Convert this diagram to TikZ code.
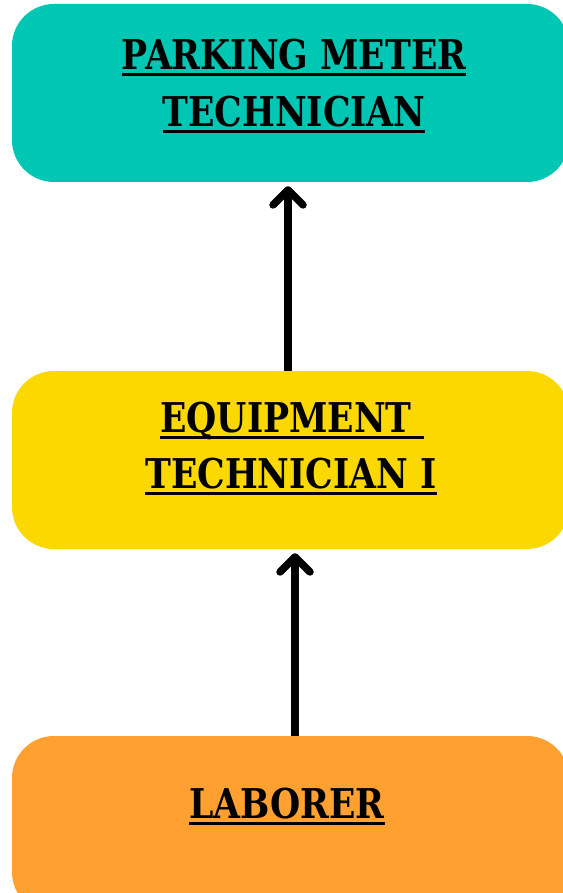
\documentclass[tikz,border=0pt]{standalone}
\usepackage{fontspec}
\setmainfont{DejaVu Serif Condensed}[FakeStretch=0.94]
\usetikzlibrary{arrows.meta}
\definecolor{tealbox}{HTML}{00C6B4}
\definecolor{yellowbox}{HTML}{FBD800}
\definecolor{orangebox}{HTML}{FFA030}
\newcommand\myul[1]{\setbox0\hbox{#1}\rlap{\rule[-6.5pt]{\wd0}{3pt}}\box0}
\tikzset{
  rolebox/.style={rounded corners=42pt, minimum width=557pt, minimum height=178pt, inner sep=0pt, draw=none},
  rolelbl/.style={anchor=base, inner sep=0pt, font=\fontsize{41pt}{41pt}\selectfont\bfseries},
  uparrow/.style={line width=7.5pt, -{Straight Barb[length=15pt, width=30pt, line cap=round, line join=round]}}
}
\begin{document}
\begin{tikzpicture}[x=1pt,y=1pt]
\useasboundingbox (0,0) rectangle (562,-893);
\node[rolebox, fill=tealbox] (top) at (290.5,-93) {};
\node[rolebox, fill=yellowbox] (mid) at (290.5,-460) {};
\node[rolebox, fill=orangebox] (bot) at (290.5,-825) {};
\node[rolelbl] (t1) at (294,-70) {\myul{PARKING METER}};
\node[rolelbl] (t2) at (294,-127) {\myul{TECHNICIAN}};
\node[rolelbl] (m1) at (292,-432) {\myul{EQUIPMENT\ }};
\node[rolelbl] (m2) at (291,-488) {\myul{TECHNICIAN I}};
\node[rolelbl] (b1) at (287,-818) {\myul{LABORER}};
\draw[uparrow, shorten >=4pt] ([xshift=-2.5pt]mid.north) -- ([xshift=-2.5pt]top.south);
\draw[uparrow, shorten >=4pt] ([xshift=4.5pt]bot.north) -- ([xshift=4.5pt]mid.south);
\end{tikzpicture}
\end{document}
